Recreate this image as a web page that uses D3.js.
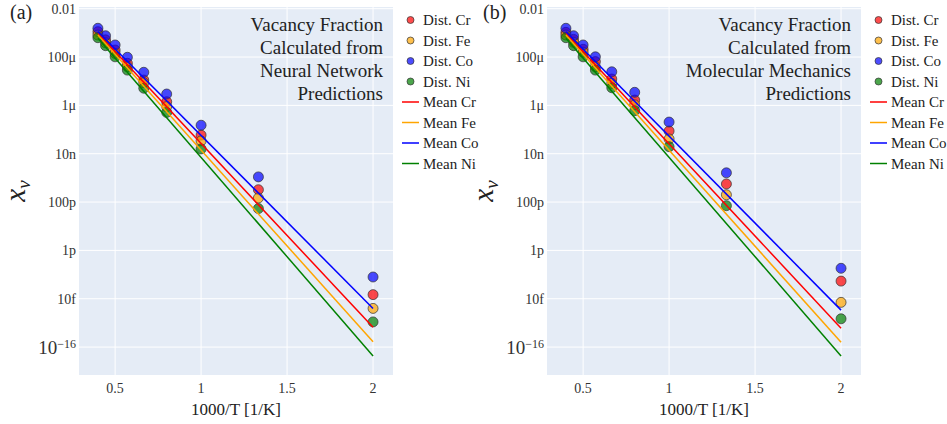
<!DOCTYPE html>
<html>
<head>
<meta charset="utf-8">
<script src="https://cdn.jsdelivr.net/npm/d3@7/dist/d3.min.js"></script>
<style>
  body { margin: 0; background: #fff; }
  svg, text { font-family: "Liberation Serif", "Times New Roman", serif; }
  text { fill: #222; }
</style>
</head>
<body>
<script>
//dims
const width = 947, height = 424;

// ---- data ----
const invT = [0.4, 0.4444, 0.5, 0.5714, 0.6667, 0.8, 1.0, 1.3333, 2.0]; // 1000/T
const elements = ['Cr', 'Fe', 'Co', 'Ni'];
const meanX = [0.4, 2.0];

// (a) neural network
const nnCr = [1.12e-3, 5.13e-4, 1.95e-4, 5.50e-5, 1.12e-5, 1.41e-6, 5.89e-8, 3.24e-10, 1.48e-14];
const nnFe = [8.13e-4, 3.89e-4, 1.41e-4, 3.98e-5, 8.71e-6, 8.91e-7, 3.39e-8, 1.48e-10, 3.98e-15];
const nnCo = [1.55e-3, 7.59e-4, 3.16e-4, 9.77e-5, 2.34e-5, 2.95e-6, 1.51e-7, 1.10e-9, 7.94e-14];
const nnNi = [6.31e-4, 2.95e-4, 1.02e-4, 2.88e-5, 5.13e-6, 5.13e-7, 1.58e-8, 5.37e-11, 1.10e-15];
const nnMeanCr = [9.55e-4, 6.61e-16];
const nnMeanFe = [8.13e-4, 1.66e-16];
const nnMeanCo = [1.12e-3, 3.98e-15];
const nnMeanNi = [6.03e-4, 4.27e-17];

// (b) molecular mechanics
const mmCr = [1.05e-3, 5.37e-4, 2.09e-4, 6.46e-5, 1.23e-5, 1.66e-6, 8.71e-8, 5.62e-10, 5.37e-14];
const mmFe = [8.13e-4, 4.07e-4, 1.58e-4, 3.98e-5, 8.13e-6, 1.05e-6, 4.07e-8, 2.00e-10, 7.08e-15];
const mmCo = [1.55e-3, 7.59e-4, 3.16e-4, 1.02e-4, 2.45e-5, 3.47e-6, 2.04e-7, 1.62e-9, 1.82e-13];
const mmNi = [6.31e-4, 2.95e-4, 1.02e-4, 2.88e-5, 5.37e-6, 6.03e-7, 1.95e-8, 7.08e-11, 1.48e-15];
const mmMeanCr = [9.55e-4, 6.03e-16];
const mmMeanFe = [8.13e-4, 1.58e-16];
const mmMeanCo = [1.12e-3, 3.39e-15];
const mmMeanNi = [6.03e-4, 4.27e-17];

// ticks
const xTicks = [0.5, 1, 1.5, 2];
const xTickLabels = ['0.5', '1', '1.5', '2'];
const yTicks = [1e-2, 1e-4, 1e-6, 1e-8, 1e-10, 1e-12, 1e-14, 1e-16];
const yTickLabels = ['0.01', '100\u03bc', '1\u03bc', '10n', '100p', '1p', '10f', '10|\u221216'];

const colors = { Cr: 'red', Fe: 'orange', Co: 'blue', Ni: 'green' };

const panels = [
  { left: 79, right: 393, tag: '(a)', tagX: 10,
    title: ['Vacancy Fraction', 'Calculated from', 'Neural Network', 'Predictions'],
    dist: { Cr: nnCr, Fe: nnFe, Co: nnCo, Ni: nnNi },
    mean: { Cr: nnMeanCr, Fe: nnMeanFe, Co: nnMeanCo, Ni: nnMeanNi } },
  { left: 547, right: 861, tag: '(b)', tagX: 483,
    title: ['Vacancy Fraction', 'Calculated from', 'Molecular Mechanics', 'Predictions'],
    dist: { Cr: mmCr, Fe: mmFe, Co: mmCo, Ni: mmNi },
    mean: { Cr: mmMeanCr, Fe: mmMeanFe, Co: mmMeanCo, Ni: mmMeanNi } }
];

const plotTop = 7, plotBottom = 375;
const xDomain = [0.29, 2.116];
const yDomain = [7.0e-18, 1.175e-2];

const svg = d3.select('body').append('svg')
  .attr('width', width).attr('height', height)
  .attr('font-family', '"Liberation Serif", "Times New Roman", serif');
svg.append('rect').attr('width', width).attr('height', height).attr('fill', '#fff');

panels.forEach((p, pi) => {
  const x = d3.scaleLinear().domain(xDomain).range([p.left, p.right]);
  const y = d3.scaleLog().domain(yDomain).range([plotBottom, plotTop]);
  const g = svg.append('g');

  //bkg
  g.append('rect')
    .attr('x', p.left).attr('y', plotTop)
    .attr('width', p.right - p.left).attr('height', plotBottom - plotTop)
    .attr('fill', '#E5ECF6');

  //grid
  g.selectAll('.xg').data(xTicks).enter().append('line')
    .attr('x1', d => x(d)).attr('x2', d => x(d))
    .attr('y1', plotTop).attr('y2', plotBottom)
    .attr('stroke', '#fff').attr('stroke-width', 1);
  g.selectAll('.yg').data(yTicks).enter().append('line')
    .attr('x1', p.left).attr('x2', p.right)
    .attr('y1', d => y(d)).attr('y2', d => y(d))
    .attr('stroke', '#fff').attr('stroke-width', 1);

  //tick labels
  g.selectAll('.xt').data(xTicks).enter().append('text')
    .attr('x', d => x(d)).attr('y', 393)
    .attr('text-anchor', 'middle').style('font-size', '14px').style('fill', '#333')
    .text((d, i) => xTickLabels[i]);
  yTicks.forEach((d, i) => {
    const lab = yTickLabels[i];
    const t = g.append('text')
      .attr('x', p.left - 3).attr('y', y(d))
      .attr('dy', '0.35em').attr('text-anchor', 'end').style('fill', '#333');
    if (lab.includes('|')) {
      const [base, sup] = lab.split('|');
      t.style('font-size', '19px');
      t.append('tspan').text(base);
      t.append('tspan').attr('dy', '-0.45em').style('font-size', '12px').text(sup);
    } else {
      t.style('font-size', '14px').text(lab);
    }
  });

  //axis titles
  g.append('text')
    .attr('x', (p.left + p.right) / 2).attr('y', 415)
    .attr('text-anchor', 'middle').style('font-size', '17px')
    .text('1000/T [1/K]');
  const yt = g.append('text')
    .attr('transform', `translate(${p.left - 54},${(plotTop + plotBottom) / 2}) rotate(-90)`)
    .attr('text-anchor', 'middle').style('font-size', '29px');
  yt.append('tspan').style('font-style', 'italic').text('x');
  yt.append('tspan').attr('dy', '0.25em').style('font-style', 'italic').style('font-size', '19px').text('v');

  //panel tag
  g.append('text').attr('x', p.tagX).attr('y', 19)
    .style('font-size', '20px').text(p.tag);

  //title annotation
  const tt = g.append('text')
    .attr('x', p.right - 10).attr('y', 31)
    .attr('text-anchor', 'end').style('font-size', '19px');
  p.title.forEach((line, i) => {
    tt.append('tspan').attr('x', p.right - 10).attr('dy', i ? 23 : 0).text(line);
  });

  //clip
  svg.append('clipPath').attr('id', 'clip' + pi)
    .append('rect').attr('x', p.left).attr('y', plotTop)
    .attr('width', p.right - p.left).attr('height', plotBottom - plotTop);
  const plot = g.append('g').attr('clip-path', `url(#clip${pi})`);

  //dist markers
  elements.forEach(el => {
    plot.selectAll('.d' + el).data(p.dist[el]).enter().append('circle')
      .attr('cx', (d, i) => x(invT[i])).attr('cy', d => y(d))
      .attr('r', 5)
      .attr('fill', colors[el]).attr('fill-opacity', 0.7)
      .attr('stroke', '#333').attr('stroke-opacity', 0.7).attr('stroke-width', 1);
  });

  //mean lines
  const line = d3.line().x((d, i) => x(meanX[i])).y(d => y(d));
  elements.forEach(el => {
    plot.append('path').datum(p.mean[el])
      .attr('d', line).attr('fill', 'none')
      .attr('stroke', colors[el]).attr('stroke-width', 1.5);
  });

  //legend
  const lx = p.right + 10;
  const lg = g.append('g');
  const items = elements.map(el => ({ kind: 'dist', el }))
    .concat(elements.map(el => ({ kind: 'mean', el })));
  items.forEach((it, i) => {
    const ly = 20 + i * 20.5;
    if (it.kind === 'dist') {
      lg.append('circle').attr('cx', lx + 7.5).attr('cy', ly).attr('r', 3.5)
        .attr('fill', colors[it.el]).attr('fill-opacity', 0.7)
        .attr('stroke', '#333').attr('stroke-opacity', 0.7).attr('stroke-width', 1);
    } else {
      lg.append('line').attr('x1', lx - 1).attr('x2', lx + 16)
        .attr('y1', ly).attr('y2', ly)
        .attr('stroke', colors[it.el]).attr('stroke-width', 1.5);
    }
    lg.append('text').attr('x', lx + 20).attr('y', ly).attr('dy', '0.35em')
      .style('font-size', '15px')
      .text((it.kind === 'dist' ? 'Dist. ' : 'Mean ') + it.el);
  });
});
</script>
</body>
</html>
